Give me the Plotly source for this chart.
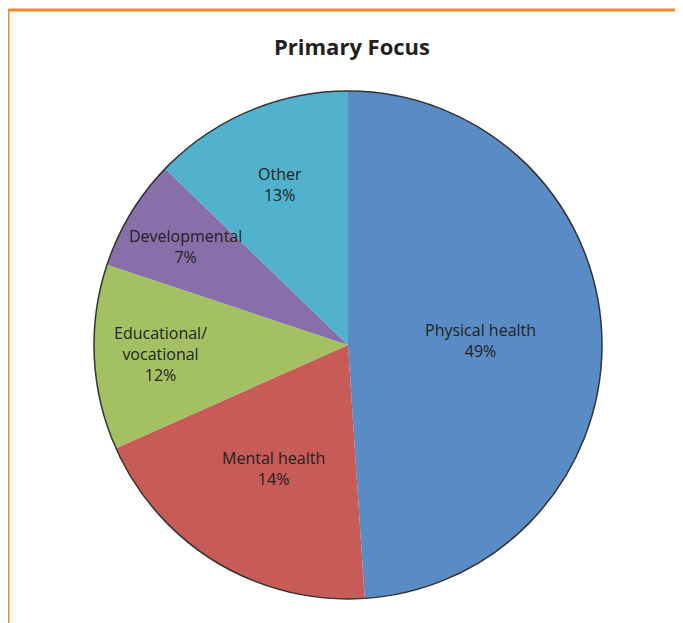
import math
import plotly.graph_objects as go

categories = ["Physical health", "Mental health", "Educational/<br>vocational", "Developmental", "Other"]
slice_values = [49.0, 19.4, 11.8, 7.1, 12.8]
printed_pct = ["49%", "14%", "12%", "7%", "13%"]
colors = ["#598BC4", "#C65B57", "#A3C162", "#886FAA", "#50B2CC"]
label_radius = [0.52, 0.57, 0.74, 0.75, 0.685]  # style: radial placement of each label

W, H = 683, 623
cx, cy, r = 340, 337, 254  # figure pixels (page is offset by 8px body margin)

dom_x = [(cx - r) / W, (cx + r) / W]
dom_y = [(H - cy - r) / H, (H - cy + r) / H]

fig = go.Figure(go.Pie(
    labels=categories,
    values=slice_values,
    textinfo="none",
    marker=dict(colors=colors, line=dict(width=0)),
    sort=False,
    direction="clockwise",
    rotation=0,
    showlegend=False,
    hoverinfo="label+value",
    domain=dict(x=dom_x, y=dom_y),
))

# labels at slice mid-angles computed from the data
total = sum(slice_values)
annotations = []
acc = 0.0
for lab, val, pct, k in zip(categories, slice_values, printed_pct, label_radius):
    mid = (acc + val / 2) / total * 2 * math.pi
    acc += val
    px = cx + k * r * math.sin(mid)
    py = cy - k * r * math.cos(mid)
    annotations.append(dict(
        x=px / W, y=1 - py / H, xref="paper", yref="paper",
        text=f"{lab}<br>{pct}", showarrow=False, xanchor="center", yanchor="middle",
        font=dict(family="Open Sans", size=16, color="#231F20"),
    ))

fig.update_layout(
    width=W, height=H,
    margin=dict(l=0, r=0, t=0, b=0),
    paper_bgcolor="white",
    title=dict(text="<b>Primary Focus</b>", x=344 / W, xanchor="center", y=1 - 39 / H, yanchor="middle",
               font=dict(family="Open Sans", size=22, color="#231F20")),
    annotations=annotations,
    shapes=[
        dict(type="rect", xref="paper", yref="paper", x0=0, x1=1.05, y0=-0.05, y1=1 - 2 / H,
             line=dict(color="#F0892A", width=3), fillcolor="rgba(0,0,0,0)"),
        dict(type="circle", xref="paper", yref="paper",
             x0=dom_x[0], x1=dom_x[1], y0=dom_y[0], y1=dom_y[1],
             line=dict(color="#333333", width=1.5)),
    ],
)

fig.write_html("out.html")
